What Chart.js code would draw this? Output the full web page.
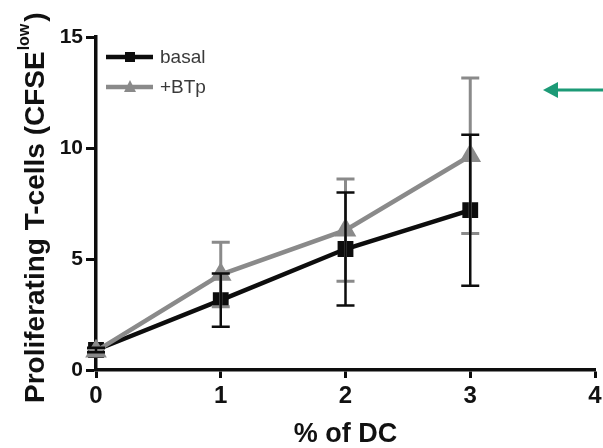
<!DOCTYPE html>
<html>
<head>
<meta charset="utf-8">
<script src="https://cdn.jsdelivr.net/npm/chart.js@4/dist/chart.umd.min.js"></script>
<style>
  body { margin: 0; background: #fff; }
  canvas { display: block; }
</style>
</head>
<body>
<canvas id="dc-chart" width="603" height="448"></canvas>
<script>
// data
var dcPercent = [0, 1, 2, 3];
var basalMean = [0.9, 3.15, 5.45, 7.2];
var basalErr = [0.1, 1.2, 2.55, 3.4];
var btpMean = [0.85, 4.3, 6.3, 9.65];
var btpErr = [0.1, 1.45, 2.3, 3.5];
var xTicks = [0, 1, 2, 3, 4];
var yTicks = [0, 5, 10, 15];

function toPoints(xs, ys) {
  return xs.map(function(x, i) { return { x: x, y: ys[i] }; });
}

// error bars, drawn with the chart's own scales
var errorBars = {
  id: "errorBars",
  afterDatasetsDraw: function(chart) {
    var ctx = chart.ctx;
    var xs = chart.scales.x, ys = chart.scales.y;
    // gray first, black on top
    [1, 0].forEach(function(di) {
      var ds = chart.data.datasets[di];
      ctx.save();
      ctx.strokeStyle = ds.borderColor;
      ctx.lineWidth = ds.errWidth;
      ds.data.forEach(function(p, i) {
        var e = ds.errors[i];
        var px = xs.getPixelForValue(p.x);
        var top = ys.getPixelForValue(p.y + e);
        var bot = ys.getPixelForValue(p.y - e);
        ctx.beginPath();
        ctx.moveTo(px, top); ctx.lineTo(px, bot);
        ctx.moveTo(px - 9, top); ctx.lineTo(px + 9, top);
        ctx.moveTo(px - 9, bot); ctx.lineTo(px + 9, bot);
        ctx.stroke();
      });
      ctx.restore();
    });
  }
};

// legend with line + marker, titles with superscript, and the green arrow
var decorations = {
  id: "decorations",
  afterDraw: function(chart) {
    var ctx = chart.ctx;
    var area = chart.chartArea;
    ctx.save();

    // legend
    var rows = [
      { ds: chart.data.datasets[0], y: 57 },
      { ds: chart.data.datasets[1], y: 87 }
    ];
    rows.forEach(function(r) {
      ctx.strokeStyle = r.ds.borderColor;
      ctx.fillStyle = r.ds.borderColor;
      ctx.lineWidth = r.ds.borderWidth;
      ctx.beginPath();
      ctx.moveTo(106, r.y); ctx.lineTo(153, r.y);
      ctx.stroke();
      if (r.ds.pointStyle === "rect") {
        ctx.fillRect(125, r.y - 5, 10, 10);
      } else {
        ctx.beginPath();
        ctx.moveTo(130, r.y - 7);
        ctx.lineTo(136, r.y + 5);
        ctx.lineTo(124, r.y + 5);
        ctx.closePath();
        ctx.fill();
      }
      ctx.fillStyle = "#3a3a3a";
      ctx.font = "19px 'Liberation Sans', Arial, sans-serif";
      ctx.textAlign = "left";
      ctx.textBaseline = "middle";
      ctx.fillText(r.ds.label, 160, r.y + 1);
    });

    // x title
    ctx.fillStyle = "#111";
    ctx.font = "bold 27px 'Liberation Sans', Arial, sans-serif";
    ctx.textAlign = "center";
    ctx.textBaseline = "alphabetic";
    ctx.fillText("% of DC", (area.left + area.right) / 2, 442);

    // y title with superscript
    var mainFont = "bold 28px 'Liberation Sans', Arial, sans-serif";
    var supFont = "bold 16px 'Liberation Sans', Arial, sans-serif";
    var part1 = "Proliferating T-cells (CFSE", sup = "low", part2 = ")";
    ctx.font = mainFont;
    var w1 = ctx.measureText(part1).width;
    ctx.font = supFont;
    var w2 = ctx.measureText(sup).width;
    ctx.translate(44, 403);
    ctx.rotate(-Math.PI / 2);
    ctx.textAlign = "left";
    ctx.font = mainFont;
    ctx.fillText(part1, 0, 0);
    ctx.font = supFont;
    ctx.fillText(sup, w1 + 1, -15);
    ctx.font = mainFont;
    ctx.fillText(part2, w1 + w2 + 3, 0);
    ctx.setTransform(1, 0, 0, 1, 0, 0);

    // green arrow
    ctx.fillStyle = "#1c9a76";
    ctx.strokeStyle = "#1c9a76";
    ctx.lineWidth = 3;
    ctx.beginPath();
    ctx.moveTo(555, 90); ctx.lineTo(603, 90);
    ctx.stroke();
    ctx.beginPath();
    ctx.moveTo(543, 90);
    ctx.lineTo(558, 82);
    ctx.lineTo(558, 98);
    ctx.closePath();
    ctx.fill();
    ctx.restore();
  }
};

new Chart(document.getElementById("dc-chart"), {
  type: "line",
  data: {
    datasets: [
      {
        label: "basal",
        data: toPoints(dcPercent, basalMean),
        errors: basalErr,
        errWidth: 2.5,
        borderColor: "#0d0d0d",
        backgroundColor: "#0d0d0d",
        borderWidth: 4.5,
        pointStyle: "rect",
        pointRadius: 8,
        order: 2,
        clip: false
      },
      {
        label: "+BTp",
        data: toPoints(dcPercent, btpMean),
        errors: btpErr,
        errWidth: 3,
        borderColor: "#8a8a8a",
        backgroundColor: "#8a8a8a",
        borderWidth: 4.5,
        pointStyle: "triangle",
        pointRadius: 8,
        order: 1,
        clip: false
      }
    ]
  },
  options: {
    responsive: false,
    animation: false,
    layout: { autoPadding: false, padding: { top: 37, right: 8, left: 0, bottom: 0 } },
    plugins: { legend: { display: false }, tooltip: { enabled: false } },
    scales: {
      x: {
        type: "linear",
        min: 0,
        max: 4,
        afterBuildTicks: function(s) { s.ticks = xTicks.map(function(v) { return { value: v }; }); },
        afterFit: function(s) { s.height = 78; s.paddingLeft = 0; s.paddingRight = 0; },
        border: { display: true, color: "#0d0d0d", width: 3.5 },
        grid: { drawOnChartArea: false, drawTicks: true, tickLength: 8, tickWidth: 3, color: "#0d0d0d" },
        ticks: { color: "#111", padding: 4, font: { family: "'Liberation Sans', Arial, sans-serif", size: 24, weight: "bold" } }
      },
      y: {
        min: 0,
        max: 15,
        afterBuildTicks: function(s) { s.ticks = yTicks.map(function(v) { return { value: v }; }); },
        afterFit: function(s) { s.width = 96; s.paddingTop = 0; s.paddingBottom = 0; },
        border: { display: true, color: "#0d0d0d", width: 3.5 },
        grid: { drawOnChartArea: false, drawTicks: true, tickLength: 10, tickWidth: 3, color: "#0d0d0d" },
        ticks: { color: "#111", padding: 3, font: { family: "'Liberation Sans', Arial, sans-serif", size: 21, weight: "bold" } }
      }
    }
  },
  plugins: [errorBars, decorations]
});
</script>
</body>
</html>
